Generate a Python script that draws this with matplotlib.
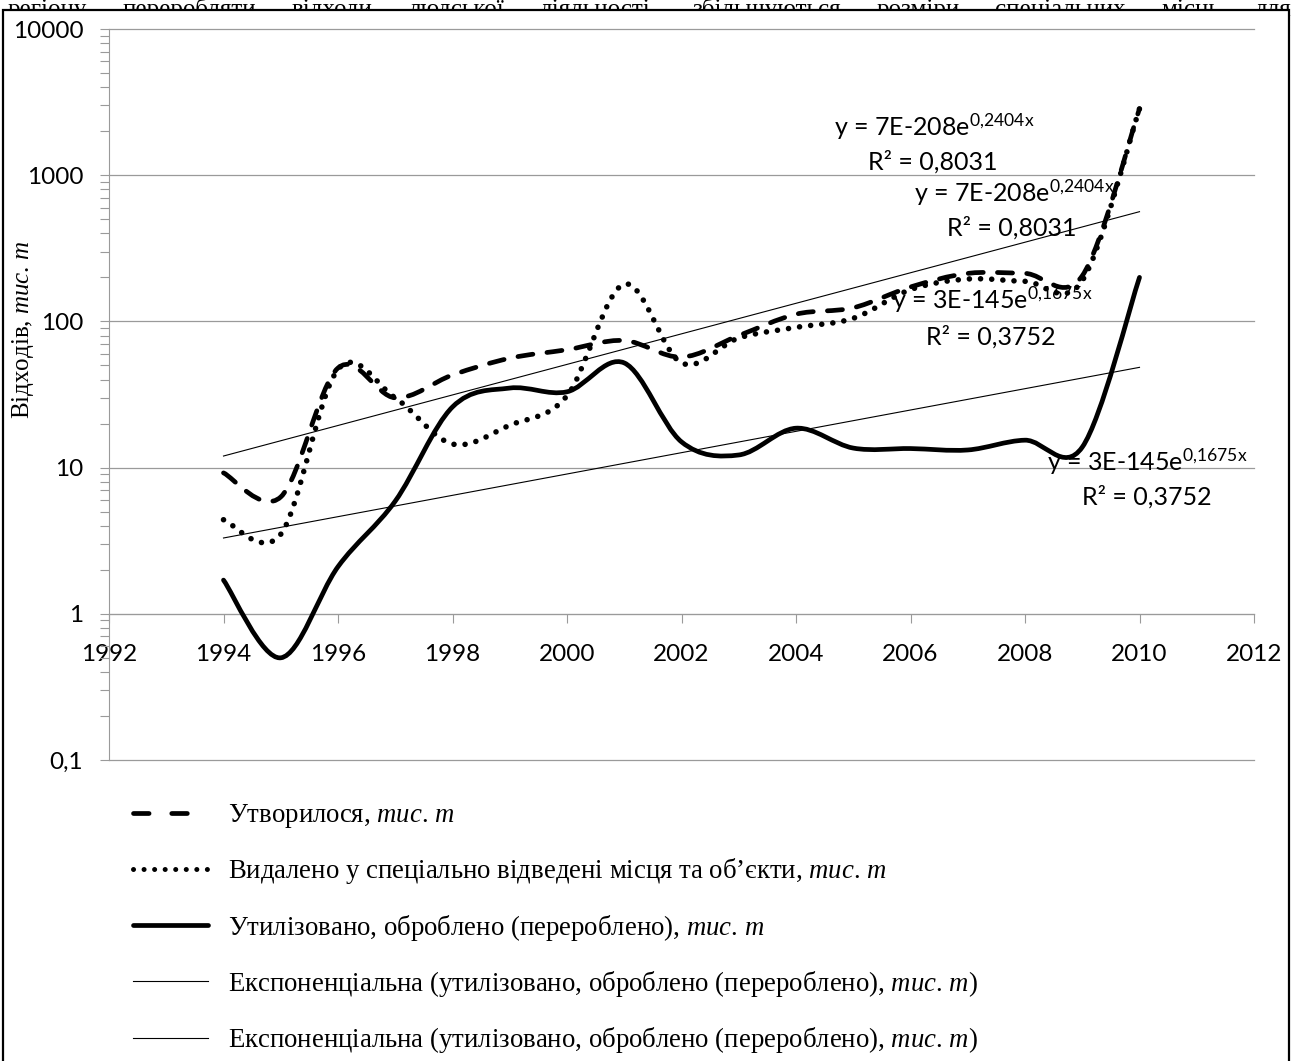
import numpy as np
import matplotlib
matplotlib.use("Agg")
import matplotlib.pyplot as plt
from matplotlib.path import Path
from matplotlib.patches import PathPatch, Rectangle
from matplotlib.lines import Line2D

# data (тис. т)
years = [1994, 1995, 1996, 1997, 1998, 1999, 2000, 2001, 2002,
         2003, 2004, 2005, 2006, 2007, 2008, 2009, 2010]
utvorylosia = [9.2, 6.3, 48, 30, 43, 56, 64, 74, 57,
               80, 112, 124, 172, 213, 213, 205, 2850]
vydaleno = [4.4, 3.5, 47, 30, 14.5, 19.5, 31, 180, 52,
            77, 91, 105, 165, 195, 188, 190, 2850]
utylizovano = [1.7, 0.5, 2.1, 5.9, 26, 35, 33, 52, 15,
               12.2, 18.6, 13.6, 13.5, 13.2, 15.4, 13.8, 200]

# exponential trend lines, end values
trend_years = [1994, 2010]
trend_upper = [12, 563]
trend_lower = [3.3, 48.5]

y_ticks = [0.1, 1, 10, 100, 1000, 10000]
y_tick_labels = ["0,1", "1", "10", "100", "1000", "10000"]
x_ticks = list(range(1992, 2013, 2))

eq_upper = r"y = 7E-208e$^{0{,}2404x}$"
r2_upper = "R² = 0,8031"
eq_lower = r"y = 3E-145e$^{0{,}1675x}$"
r2_lower = "R² = 0,3752"

legend_labels = [
    r"Утворилося, $\mathit{тис}$. $\mathit{т}$",
    r"Видалено у спеціально відведені місця та об’єкти, $\mathit{тис}$. $\mathit{т}$",
    r"Утилізовано, оброблено (перероблено), $\mathit{тис}$. $\mathit{т}$",
    r"Експоненціальна (утилізовано, оброблено (перероблено), $\mathit{тис}$. $\mathit{т}$)",
    r"Експоненціальна (утилізовано, оброблено (перероблено), $\mathit{тис}$. $\mathit{т}$)",
]
y_label = r"Відходів, $\mathit{тис}$. $\mathit{т}$"
top_line = ("регіону переробляти відходи людської діяльності, "
            "збільшуються розміри спеціальних місць для")

plt.rcParams["mathtext.fontset"] = "custom"
plt.rcParams["mathtext.rm"] = "Liberation Serif"
plt.rcParams["mathtext.it"] = "Liberation Serif:italic"
plt.rcParams["mathtext.default"] = "regular"

W, H = 1294, 1061
GRID = "#9a9a9a"
SERIF = "Liberation Serif"
SANS = "Lato"
FRAME_TOP = 10


def smooth_path(x, y):
    # Excel-like smoothed line: cubic Bezier segments, built in log space
    px = np.asarray(x, float)
    py = np.log10(np.asarray(y, float))
    n = len(px)
    verts = [(px[0], py[0])]
    codes = [Path.MOVETO]
    for i in range(n - 1):
        i0 = max(i - 1, 0)
        i3 = min(i + 2, n - 1)
        c1 = (px[i] + (px[i + 1] - px[i0]) / 6, py[i] + (py[i + 1] - py[i0]) / 6)
        c2 = (px[i + 1] - (px[i3] - px[i]) / 6, py[i + 1] - (py[i3] - py[i]) / 6)
        verts += [c1, c2, (px[i + 1], py[i + 1])]
        codes += [Path.CURVE4] * 3
    verts = np.array(verts)
    verts[:, 1] = 10 ** verts[:, 1]
    return Path(verts, codes)


fig = plt.figure(figsize=(W / 100, H / 100), dpi=100)

# cut-off line of the surrounding document, hidden under the frame
renderer = fig.canvas.get_renderer()
words = top_line.split()
tmp = [fig.text(0, 0, w, fontsize=18, family=SERIF) for w in words]
widths = [t.get_window_extent(renderer).width for t in tmp]
for t in tmp:
    t.remove()
gap = (W - 10 - sum(widths)) / (len(words) - 1)
xpos = 8
for w, wd in zip(words, widths):
    fig.text(xpos / W, 1 - 16 / H, w, fontsize=18, family=SERIF,
             ha="left", va="baseline", zorder=-3)
    xpos += wd + gap

frame = Rectangle((3 / W, -0.01), (1289 - 3) / W, 1.01 - FRAME_TOP / H,
                  transform=fig.transFigure, facecolor="white",
                  edgecolor="black", lw=1.6, zorder=-1)
fig.add_artist(frame)

ax = fig.add_axes([109 / W, 1 - 760 / H, (1254 - 109) / W, (760 - 29) / H])
ax.patch.set_alpha(0)
ax.set_yscale("log")
ax.set_xlim(1992, 2012)
ax.set_ylim(0.1, 10000)

# series
ax.add_patch(PathPatch(smooth_path(years, utvorylosia), fill=False,
                       edgecolor="black", lw=3.4, linestyle=(0, (3.2, 3.0)),
                       capstyle="round", joinstyle="round", zorder=4))
ax.add_patch(PathPatch(smooth_path(years, vydaleno), fill=False,
                       edgecolor="black", lw=4.0, linestyle=(0, (0.01, 2.0)),
                       capstyle="round", joinstyle="round", zorder=4))
ax.add_patch(PathPatch(smooth_path(years, utylizovano), fill=False,
                       edgecolor="black", lw=3.4, capstyle="round",
                       joinstyle="round", zorder=4))
ax.plot(trend_years, trend_upper, color="black", lw=0.8, zorder=3)
ax.plot(trend_years, trend_lower, color="black", lw=0.8, zorder=3)

# axes styling
for side in ["top", "right"]:
    ax.spines[side].set_visible(False)
ax.spines["left"].set_color(GRID)
ax.spines["bottom"].set_color(GRID)
ax.spines["bottom"].set_position(("data", 1))
ax.set_yticks(y_ticks, y_tick_labels)
ax.yaxis.set_minor_locator(matplotlib.ticker.LogLocator(base=10, subs=np.arange(2, 10)))
ax.yaxis.set_minor_formatter(matplotlib.ticker.NullFormatter())
ax.set_xticks(x_ticks, [str(v) for v in x_ticks])
ax.tick_params(axis="both", which="both", direction="out", color=GRID,
               length=6.5, width=0.8, labelsize=17.5, labelcolor="black")
ax.tick_params(axis="y", pad=12)
ax.tick_params(axis="x", pad=15.5)
for lab in ax.get_xticklabels() + ax.get_yticklabels():
    lab.set_family(SANS)
ax.yaxis.grid(True, which="major", color=GRID, lw=0.9)
for gl in ax.yaxis.get_gridlines():
    gl.set_clip_on(False)
ax.set_axisbelow(True)

fig.text(23 / W, 1 - 330 / H, y_label, rotation=90, ha="center", va="center",
         family=SERIF, fontsize=18)

# trend equations
eq_items = [
    (eq_upper, 934, 127), (r2_upper, 933, 162),
    (eq_upper, 1014, 193), (r2_upper, 1012, 228),
    (eq_lower, 992, 300), (r2_lower, 991, 337),
    (eq_lower, 1147, 462), (r2_lower, 1147, 497),
]
for txt, px, py in eq_items:
    fig.text(px / W, 1 - py / H, txt, ha="center", va="center",
             family=SANS, fontsize=18, zorder=6)

# legend below the plot
handles = [
    Line2D([], [], color="black", lw=3.4, linestyle=(0, (3.3, 4.8)),
           dash_capstyle="round"),
    Line2D([], [], color="black", lw=3.6, linestyle=(0, (0.01, 2.1)),
           dash_capstyle="round"),
    Line2D([], [], color="black", lw=3.4, solid_capstyle="round"),
    Line2D([], [], color="black", lw=0.8),
    Line2D([], [], color="black", lw=0.8),
]
fig.legend(handles, legend_labels, loc="upper left",
           bbox_to_anchor=(133 / W, 1 - 802 / H), frameon=False,
           prop=dict(family=SERIF, size=19.3), handlelength=2.8,
           handletextpad=0.75, labelspacing=0.98, borderpad=0, borderaxespad=0)

plt.savefig("out.png", dpi=100)
